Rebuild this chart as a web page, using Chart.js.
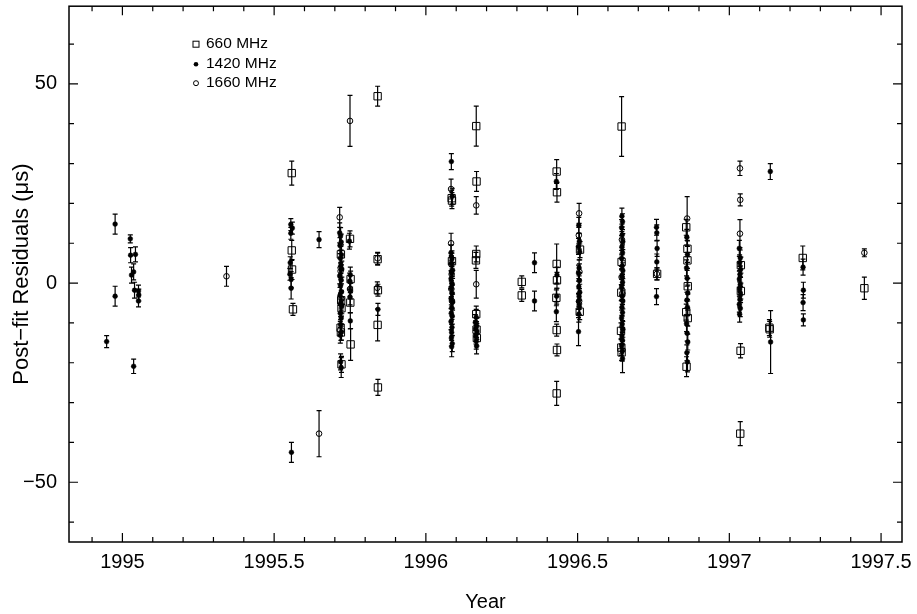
<!DOCTYPE html>
<html>
<head>
<meta charset="utf-8">
<title>Post-fit Residuals</title>
<script src="https://cdn.jsdelivr.net/npm/chart.js@4.4.0/dist/chart.umd.min.js"></script>
<style>
  html, body { margin: 0; padding: 0; background: #fff; }
  #residChart { display: block; }
</style>
</head>
<body>
<canvas id="residChart" width="917" height="614"></canvas>
<script>
// 660 MHz (open squares)
const years660 = [1995.558, 1995.558, 1995.559, 1995.562, 1995.720, 1995.721, 1995.722, 1995.719, 1995.720, 1995.722,
  1995.750, 1995.752, 1995.751, 1995.752, 1995.841, 1995.841, 1995.842, 1995.841, 1995.842, 1996.085,
  1996.086, 1996.086, 1996.166, 1996.167, 1996.166, 1996.165, 1996.166, 1996.167, 1996.168, 1996.316,
  1996.316, 1996.431, 1996.432, 1996.431, 1996.432, 1996.430, 1996.431, 1996.432, 1996.431, 1996.508,
  1996.507, 1996.645, 1996.645, 1996.644, 1996.643, 1996.644, 1996.645, 1996.762, 1996.858, 1996.862,
  1996.862, 1996.863, 1996.858, 1996.863, 1996.859, 1997.038, 1997.038, 1997.037, 1997.036, 1997.132,
  1997.133, 1997.242, 1997.445];
const resid660 = [27.6, 8.2, 3.4, -6.6, 7.2, -4.3, -6.3, -11.2, -12.4, -20.4,
  11.1, 1.0, -4.9, -15.4, 46.9, 6.0, -1.8, -10.5, -26.2, 21.3,
  20.7, 5.5, 39.4, 25.5, 7.3, 5.7, -7.8, -11.7, -13.8, 0.3,
  -3.1, 28.0, 22.8, 4.8, 0.7, -3.7, -11.8, -16.8, -27.7, 8.4,
  -7.2, 39.3, 5.3, -2.4, -12.0, -16.2, -17.4, 2.3, 14.0, 8.6,
  5.7, -0.8, -7.3, -8.8, -21.0, 4.5, -2.0, -17.0, -37.8, -11.2,
  -11.6, 6.3, -1.3];
const err660 = [3.0, 2.5, 2.5, 1.5, 2.0, 2.0, 2.0, 2.0, 2.0, 2.0,
  2.0, 2.0, 2.5, 4.0, 2.5, 1.5, 1.5, 4.0, 2.0, 2.0,
  2.0, 2.0, 5.0, 2.5, 2.0, 2.0, 2.0, 2.0, 2.0, 1.5,
  1.5, 3.0, 2.5, 5.0, 2.0, 2.0, 1.5, 1.5, 3.0, 2.0,
  2.0, 7.5, 2.0, 2.0, 2.0, 2.0, 2.0, 1.5, 2.0, 2.0,
  2.0, 2.0, 2.0, 2.0, 2.5, 2.0, 2.0, 1.8, 3.0, 2.0,
  2.0, 3.0, 2.8];

// 1420 MHz (filled circles)
const years1420 = [1994.948, 1994.976, 1994.976, 1995.026, 1995.027, 1995.043, 1995.030, 1995.037, 1995.040, 1995.053,
  1995.054, 1995.053, 1995.037, 1995.555, 1995.560, 1995.555, 1995.553, 1995.552, 1995.556, 1995.556,
  1995.557, 1995.648, 1995.716, 1995.719, 1995.721, 1995.717, 1995.722, 1995.718, 1995.720, 1995.723,
  1995.716, 1995.721, 1995.719, 1995.722, 1995.717, 1995.720, 1995.723, 1995.718, 1995.721, 1995.719,
  1995.722, 1995.718, 1995.719, 1995.721, 1995.748, 1995.751, 1995.749, 1995.752, 1995.750, 1995.751,
  1995.842, 1996.084, 1996.087, 1996.083, 1996.086, 1996.084, 1996.088, 1996.085, 1996.083, 1996.087,
  1996.084, 1996.086, 1996.083, 1996.088, 1996.085, 1996.084, 1996.087, 1996.083, 1996.086, 1996.085,
  1996.084, 1996.087, 1996.085, 1996.166, 1996.163, 1996.167, 1996.164, 1996.168, 1996.165, 1996.166,
  1996.167, 1996.358, 1996.358, 1996.430, 1996.432, 1996.431, 1996.430, 1996.504, 1996.506, 1996.503,
  1996.507, 1996.505, 1996.503, 1996.506, 1996.504, 1996.507, 1996.505, 1996.503, 1996.506, 1996.504,
  1996.503, 1996.646, 1996.648, 1996.645, 1996.647, 1996.649, 1996.646, 1996.648, 1996.645, 1996.647,
  1996.649, 1996.646, 1996.648, 1996.645, 1996.647, 1996.649, 1996.646, 1996.648, 1996.645, 1996.647,
  1996.649, 1996.646, 1996.648, 1996.645, 1996.647, 1996.648, 1996.760, 1996.761, 1996.762, 1996.761,
  1996.760, 1996.860, 1996.862, 1996.859, 1996.861, 1996.863, 1996.860, 1996.862, 1996.859, 1996.861,
  1996.863, 1996.860, 1996.862, 1997.033, 1997.036, 1997.034, 1997.037, 1997.035, 1997.033, 1997.036,
  1997.034, 1997.037, 1997.035, 1997.033, 1997.036, 1997.034, 1997.135, 1997.136, 1997.243, 1997.244,
  1997.243, 1997.244];
const resid1420 = [-14.7, 14.8, -3.3, 11.1, 7.0, 7.2, 2.0, 2.8, -1.8, -2.0,
  -3.0, -4.5, -20.9, 14.7, 13.8, 12.5, 5.1, 2.2, 0.9, -1.3,
  -42.5, 10.9, 12.6, 11.9, 10.3, 9.4, 7.1, 6.2, 4.4, 3.5,
  1.8, 0.7, -0.6, -2.2, -3.1, -4.9, -5.7, -7.6, -8.8, -10.4,
  -12.3, -13.1, -19.8, -21.2, 10.5, 2.0, 0.5, -2.0, -3.5, -9.5,
  -6.6, 30.5, 21.8, 7.6, 6.1, 4.9, 3.2, 2.4, 1.1, -0.3,
  -1.4, -2.6, -3.9, -4.8, -6.2, -7.5, -8.3, -9.7, -11.1, -12.4,
  -13.8, -15.2, -16.0, -8.6, -9.9, -10.8, -11.5, -12.2, -13.3, -14.6,
  -15.8, 5.1, -4.5, 25.5, 2.0, -3.3, -7.2, 14.5, 10.5, 9.2,
  7.8, 3.8, 2.5, 0.6, -0.9, -2.3, -3.4, -4.6, -6.0, -7.8,
  -12.2, 16.8, 15.4, 13.9, 12.1, 10.4, 9.1, 7.6, 6.2, 4.3,
  3.1, 1.6, 0.2, -1.1, -3.3, -4.5, -6.1, -7.4, -8.8, -10.3,
  -11.6, -13.2, -14.4, -15.8, -17.1, -19.0, 14.0, 12.6, 8.7, 5.3,
  -3.4, 11.5, 7.2, 3.8, 1.2, -2.5, -4.3, -6.1, -10.2, -12.6,
  -14.8, -17.5, -19.8, 8.7, 6.3, 5.1, 3.4, 2.2, 1.0, -0.4,
  -1.5, -2.9, -4.1, -5.3, -6.4, -7.8, 28.0, -14.8, 4.0, -1.8,
  -4.9, -9.25];
const err1420 = [1.5, 2.5, 2.5, 1.0, 1.9, 1.9, 2.0, 2.0, 2.0, 1.5,
  1.5, 1.5, 1.8, 1.5, 1.5, 1.5, 1.5, 1.5, 2.0, 2.7,
  2.5, 2.0, 2.5, 2.0, 2.0, 2.0, 2.5, 2.0, 2.0, 2.0,
  2.0, 2.5, 2.0, 2.0, 2.0, 2.5, 2.0, 2.0, 2.0, 2.0,
  2.0, 2.0, 2.0, 2.5, 2.0, 2.0, 2.0, 2.0, 2.0, 2.0,
  1.5, 2.0, 2.0, 2.0, 2.0, 2.0, 2.0, 2.5, 2.0, 2.0,
  2.0, 2.0, 2.5, 2.0, 2.0, 2.0, 2.0, 2.0, 2.0, 2.0,
  2.0, 2.0, 2.5, 2.0, 2.0, 2.0, 2.0, 2.0, 2.0, 2.0,
  2.0, 2.5, 2.5, 2.0, 2.0, 2.0, 2.5, 2.0, 2.0, 2.0,
  2.0, 2.0, 2.0, 2.0, 2.0, 2.0, 2.0, 2.0, 2.0, 2.0,
  3.5, 2.0, 2.0, 2.0, 2.0, 2.0, 2.0, 2.0, 2.0, 2.0,
  2.0, 2.0, 2.0, 2.0, 2.0, 2.0, 2.0, 2.0, 2.0, 2.0,
  2.0, 2.0, 2.0, 2.0, 2.5, 3.5, 2.0, 2.0, 2.0, 2.0,
  2.0, 2.0, 2.0, 2.0, 2.0, 2.0, 2.0, 2.0, 2.0, 2.0,
  2.0, 2.0, 2.5, 2.0, 2.0, 2.0, 2.0, 2.0, 2.0, 2.0,
  2.0, 2.0, 2.0, 2.0, 2.0, 2.0, 2.0, 7.9, 2.0, 2.0,
  2.0, 1.5];

// 1660 MHz (open circles)
const years1660 = [1995.343, 1995.648, 1995.750, 1995.716, 1995.719, 1995.722, 1995.750, 1995.841, 1995.840, 1996.083,
  1996.083, 1996.084, 1996.085, 1996.084, 1996.086, 1996.166, 1996.166, 1996.505, 1996.504, 1996.506,
  1996.505, 1996.646, 1996.645, 1996.647, 1996.761, 1996.861, 1997.035, 1997.036, 1997.035, 1997.445];
const resid1660 = [1.7, -37.8, 40.7, 16.5, 3.0, -4.0, -1.5, 6.2, -1.2, 23.6,
  10.0, 4.7, 2.2, -1.5, -4.5, 19.5, -0.3, 17.5, 12.0, 2.8,
  -4.6, 10.9, 1.5, -2.6, 2.3, 16.2, 28.8, 20.9, 12.4, 7.6];
const err1660 = [2.5, 5.8, 6.4, 2.5, 2.0, 2.0, 2.0, 1.5, 1.5, 2.5,
  2.5, 2.0, 2.0, 2.0, 2.0, 2.2, 3.5, 2.5, 2.0, 2.0,
  2.0, 2.0, 2.0, 2.0, 1.5, 5.5, 1.8, 1.5, 3.5, 1.0];

// axis ticks
const xTicks = [1995, 1995.5, 1996, 1996.5, 1997, 1997.5];
const yTicks = [-50, 0, 50];

const FONT = '"Liberation Sans", Arial, sans-serif';

function points(xs, ys, es) {
  return xs.map((x, i) => ({ x: x, y: ys[i], err: es[i] }));
}

// vertical error bars with small caps
const errorBars = {
  id: 'errorBars',
  afterDatasetsDraw(chart) {
    const { ctx, scales: { x, y } } = chart;
    ctx.save();
    ctx.strokeStyle = '#000';
    ctx.lineWidth = 1.2;
    chart.data.datasets.forEach(ds => {
      ds.data.forEach(p => {
        const px = x.getPixelForValue(p.x);
        const top = y.getPixelForValue(p.y + p.err);
        const bot = y.getPixelForValue(p.y - p.err);
        ctx.beginPath();
        ctx.moveTo(px, top); ctx.lineTo(px, bot);
        ctx.moveTo(px - 2.5, top); ctx.lineTo(px + 2.5, top);
        ctx.moveTo(px - 2.5, bot); ctx.lineTo(px + 2.5, bot);
        ctx.stroke();
      });
    });
    ctx.restore();
  }
};

// box round the plot, ticks pointing inward on all four sides
const frameTicks = {
  id: 'frameTicks',
  afterDraw(chart) {
    const { ctx, chartArea: a, scales: { x, y } } = chart;
    ctx.save();
    ctx.strokeStyle = '#000';
    ctx.lineWidth = 1.5;
    ctx.strokeRect(a.left, a.top, a.right - a.left, a.bottom - a.top);
    ctx.lineWidth = 1.2;
    ctx.beginPath();
    for (let k = 19949; k <= 19975; k++) {
      const px = x.getPixelForValue(k / 10);
      const len = k % 5 === 0 ? 9 : 5;
      ctx.moveTo(px, a.bottom); ctx.lineTo(px, a.bottom - len);
      ctx.moveTo(px, a.top); ctx.lineTo(px, a.top + len);
    }
    for (let v = -60; v <= 60; v += 10) {
      const py = y.getPixelForValue(v);
      const len = v % 50 === 0 ? 9 : 5;
      ctx.moveTo(a.left, py); ctx.lineTo(a.left + len, py);
      ctx.moveTo(a.right, py); ctx.lineTo(a.right - len, py);
    }
    ctx.stroke();
    ctx.restore();
  }
};

// legend inside the plot, upper left
const insideLegend = {
  id: 'insideLegend',
  afterDraw(chart) {
    const { ctx, chartArea: a } = chart;
    const mx = a.left + 127, tx = a.left + 137;
    const rows = [a.top + 38, a.top + 58, a.top + 77];
    ctx.save();
    ctx.strokeStyle = '#000';
    ctx.fillStyle = '#000';
    ctx.lineWidth = 1;
    ctx.font = '15.5px ' + FONT;
    ctx.textBaseline = 'middle';
    ctx.strokeRect(mx - 3, rows[0] - 3, 6, 6);
    ctx.beginPath(); ctx.arc(mx, rows[1], 2.3, 0, Math.PI * 2); ctx.fill();
    ctx.beginPath(); ctx.arc(mx, rows[2], 2.5, 0, Math.PI * 2); ctx.stroke();
    chart.data.datasets.forEach((ds, i) => ctx.fillText(ds.label, tx, rows[i]));
    ctx.restore();
  }
};

new Chart(document.getElementById('residChart'), {
  type: 'scatter',
  data: {
    datasets: [
      {
        label: '660 MHz',
        data: points(years660, resid660, err660),
        pointStyle: 'rect',
        pointRadius: 5.2,
        borderColor: '#000',
        backgroundColor: 'rgba(0,0,0,0)',
        borderWidth: 1
      },
      {
        label: '1420 MHz',
        data: points(years1420, resid1420, err1420),
        pointStyle: 'circle',
        pointRadius: 2.4,
        borderColor: '#000',
        backgroundColor: '#000',
        borderWidth: 0.5
      },
      {
        label: '1660 MHz',
        data: points(years1660, resid1660, err1660),
        pointStyle: 'circle',
        pointRadius: 2.8,
        borderColor: '#000',
        backgroundColor: 'rgba(0,0,0,0)',
        borderWidth: 1
      }
    ]
  },
  options: {
    responsive: false,
    animation: false,
    devicePixelRatio: 1,
    layout: { padding: { top: 4, right: 15, left: 0, bottom: 0 } },
    plugins: {
      legend: { display: false },
      tooltip: { enabled: false }
    },
    scales: {
      x: {
        type: 'linear',
        min: 1994.824,
        max: 1997.569,
        afterBuildTicks: s => { s.ticks = xTicks.map(v => ({ value: v })); },
        afterFit: s => { s.height = 72; s.paddingLeft = 0; s.paddingRight = 0; },
        grid: { display: false, drawTicks: false },
        border: { display: false },
        ticks: {
          color: '#000',
          font: { family: FONT, size: 20 },
          padding: 8,
          maxRotation: 0,
          autoSkip: false,
          callback: v => String(v)
        },
        title: {
          display: true,
          text: 'Year',
          color: '#000',
          font: { family: FONT, size: 20 },
          padding: { top: 0, bottom: 0 }
        }
      },
      y: {
        min: -65,
        max: 69.5,
        afterBuildTicks: s => { s.ticks = yTicks.map(v => ({ value: v })); },
        afterFit: s => { s.width = 69; s.paddingTop = 0; s.paddingBottom = 0; },
        grid: { display: false, drawTicks: false },
        border: { display: false },
        ticks: {
          color: '#000',
          font: { family: FONT, size: 20 },
          padding: 12,
          callback: v => (v < 0 ? '\u2212' + Math.abs(v) : String(v))
        },
        title: {
          display: true,
          text: 'Post\u2212fit Residuals (\u03bcs)',
          color: '#000',
          font: { family: FONT, size: 22 },
          padding: { top: 9, bottom: 0 }
        }
      }
    }
  },
  plugins: [errorBars, frameTicks, insideLegend]
});
</script>
</body>
</html>
